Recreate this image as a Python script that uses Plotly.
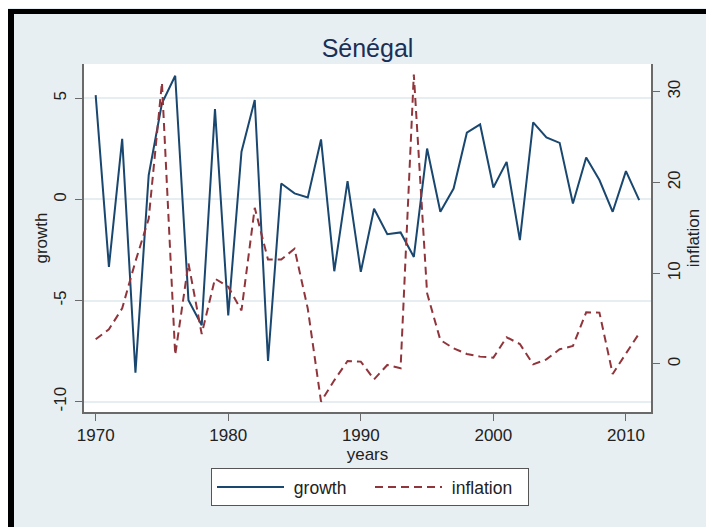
import plotly.graph_objects as go

years = list(range(1970, 2012))
growth = [5.16, -3.33, 3.0, -8.57, 1.2, 4.75, 6.12, -4.98, -6.22, 4.47,
          -5.73, 2.36, 4.92, -7.99, 0.79, 0.30, 0.10, 2.97, -3.55, 0.91,
          -3.58, -0.46, -1.72, -1.63, -2.84, 2.52, -0.61, 0.54, 3.30, 3.71,
          0.59, 1.86, -2.01, 3.81, 3.07, 2.80, -0.20, 2.08, 0.96, -0.61,
          1.40, -0.03]
inflation = [2.72, 3.82, 6.13, 11.3, 16.0, 31.0, 1.0, 11.1, 3.3, 9.4,
             8.5, 5.9, 17.2, 11.5, 11.5, 12.7, 6.1, -4.15, -1.8, 0.33,
             0.26, -1.69, -0.11, -0.48, 31.9, 7.8, 2.64, 1.72, 1.1, 0.81,
             0.7, 2.94, 2.2, -0.04, 0.51, 1.62, 1.98, 5.69, 5.66, -1.1,
             1.15, 3.38]
growth_ticks = [-10, -5, 0, 5]
inflation_ticks = [0, 10, 20, 30]
year_ticks = [1970, 1980, 1990, 2000, 2010]

W, H = 714, 527
OFF = 8  # page offset of the figure in the window
L, T = 84 - OFF, 64 - OFF
R, B = W - (651 - OFF), H - (412 - OFF)
PW, PH = W - L - R, H - T - B

def px(sx):
    return (sx - OFF - L) / PW

def py(sy):
    return (H - B - (sy - OFF)) / PH

BG = "#e8eff2"
NAVY = "#1a476f"
MAROON = "#90353b"
AXIS = "#6a6a6a"
FONT = "Liberation Sans, Arial, sans-serif"

fig = go.Figure()
fig.add_trace(go.Scatter(x=years, y=growth, name="\u00a0growth", mode="lines",
                         line=dict(color=NAVY, width=2)))
fig.add_trace(go.Scatter(x=years, y=inflation, name="\u00a0inflation", mode="lines",
                         yaxis="y2",
                         line=dict(color=MAROON, width=2, dash="8px,5px")))

shapes = [
    dict(type="rect", xref="paper", yref="paper", x0=px(8), x1=px(W + 20), y0=py(14), y1=py(9),
         fillcolor="black", line=dict(width=0), layer="above"),
    dict(type="rect", xref="paper", yref="paper", x0=px(8), x1=px(14), y0=py(H + 20), y1=py(9),
         fillcolor="black", line=dict(width=0), layer="above"),
]

fig.update_layout(
    width=W, height=H,
    margin=dict(l=L, r=R, t=T, b=B, autoexpand=False),
    paper_bgcolor=BG, plot_bgcolor="white",
    font=dict(family=FONT, size=17, color="#222222"),
    title=dict(text="Sénégal", x=(L + PW / 2) / W,
               xref="container", xanchor="center",
               y=1 - (48 - OFF) / H, yref="container", yanchor="middle",
               font=dict(size=25, color="#1a2f55")),
    showlegend=True,
    legend=dict(orientation="h", x=px(211), xanchor="left", y=py(468), yanchor="top",
                bgcolor="white", bordercolor="#555555", borderwidth=1,
                font=dict(size=17.5, color="#222222"), itemwidth=67,
                entrywidth=76, entrywidthmode="pixels"),
    xaxis=dict(range=[1969.12, 2011.89], tickvals=year_ticks, ticks="outside",
               ticklen=7, tickcolor=AXIS, showline=True, linecolor=AXIS, linewidth=1.5,
               showgrid=False, zeroline=False,
               title=dict(text="years", standoff=0, font=dict(size=17))),
    yaxis=dict(range=[-10.51, 6.70], tickvals=growth_ticks,
               ticktext=[str(v) for v in growth_ticks], ticks="outside",
               ticklen=7, tickcolor=AXIS, tickangle=-90, ticklabelstandoff=2,
               showline=True, linecolor=AXIS,
               linewidth=1.5, showgrid=True, gridcolor="#e6eef1", gridwidth=1.5,
               zeroline=False, title=dict(text="growth", standoff=0, font=dict(size=17))),
    yaxis2=dict(range=[-5.29, 33.05], tickvals=inflation_ticks,
                ticktext=[str(v) for v in inflation_ticks], overlaying="y",
                side="right", ticks="outside", ticklen=7, tickcolor=AXIS, tickangle=-90,
                showline=True, linecolor=AXIS, linewidth=1.5, showgrid=False,
                zeroline=False, title=dict(text="inflation", standoff=0, font=dict(size=17))),
    shapes=shapes,
)

fig.write_html("out.html")
